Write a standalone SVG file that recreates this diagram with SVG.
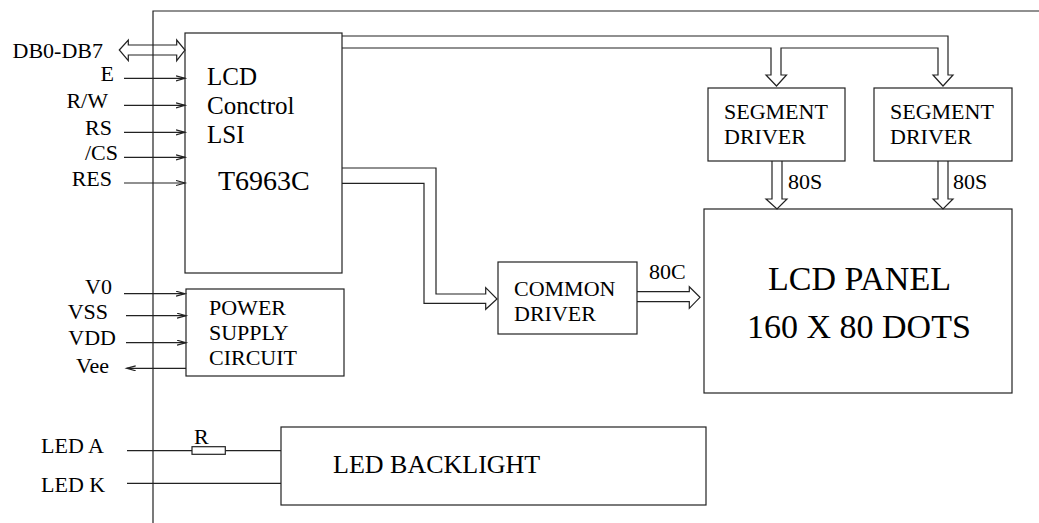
<svg xmlns="http://www.w3.org/2000/svg" width="1039" height="523" viewBox="0 0 1039 523" font-family="'Liberation Serif', 'Times New Roman', Times, serif">
<defs>
<style>
text{fill:#000}
.l{font-size:22px}
.m{font-size:25px}
.big{font-size:34px}
.box{fill:#fff;stroke:#222;stroke-width:1.2}
.ln{fill:none;stroke:#222;stroke-width:1.2}
.bus{fill:none;stroke:#222;stroke-width:1.2;stroke-linejoin:miter}
.end{text-anchor:end}
</style>
<marker id="ah" markerUnits="userSpaceOnUse" markerWidth="12" markerHeight="8" refX="9" refY="3" orient="auto">
<path d="M0,0.5 L9,3 L0,5.5" fill="none" stroke="#222" stroke-width="1.2"/>
</marker>
</defs>
<g id="frame">
<path class="ln" d="M153,523 V11 H1039"/>
</g>
<g id="lcd-control">
<rect class="box" x="185" y="33" width="157" height="240"/>
<text class="m" x="207" y="85">LCD</text>
<text class="m" x="207" y="114">Conctrol</text>
<text class="m" x="207" y="143">LSI</text>
<text x="218" y="190" font-size="28">T6963C</text>
</g>
<g id="seg1">
<rect class="box" x="708" y="88" width="137" height="73"/>
<text class="l" x="724" y="119">SEGMENT</text>
<text class="l" x="724" y="144">DRIVER</text>
</g>
<g id="seg2">
<rect class="box" x="874" y="88" width="138" height="73"/>
<text class="l" x="890" y="119">SEGMENT</text>
<text class="l" x="890" y="144">DRIVER</text>
</g>
<g id="lcd-panel">
<rect class="box" x="704" y="209" width="308" height="184"/>
<text class="big" x="768" y="290">LCD PANEL</text>
<text class="big" x="747" y="338">160 X 80 DOTS</text>
</g>
<g id="common">
<rect class="box" x="498" y="262" width="139" height="72"/>
<text class="l" x="514" y="296">COMMON</text>
<text class="l" x="514" y="321">DRIVER</text>
</g>
<g id="power">
<rect class="box" x="186" y="289" width="158" height="87"/>
<text class="l" x="209" y="315">POWER</text>
<text class="l" x="209" y="340">SUPPLY</text>
<text class="l" x="209" y="365">CIRCUIT</text>
</g>
<g id="backlight">
<rect class="box" x="281" y="427" width="425" height="78"/>
<text x="333" y="473" font-size="26">LED BACKLIGHT</text>
</g>
<g id="labels">
<text class="l end" x="103" y="58">DB0-DB7</text>
<text class="l end" x="114" y="81">E</text>
<text class="l end" x="108" y="108">R/W</text>
<text class="l end" x="112" y="135">RS</text>
<text class="l end" x="118" y="160">/CS</text>
<text class="l end" x="112" y="186">RES</text>
<text class="l end" x="112" y="294">V0</text>
<text class="l end" x="108" y="319">VSS</text>
<text class="l end" x="116" y="345">VDD</text>
<text class="l end" x="109" y="373">Vee</text>
<text class="l" x="41" y="453">LED A</text>
<text class="l" x="41" y="492">LED K</text>
<text class="l" x="194" y="444">R</text>
<text class="l" x="788" y="189">80S</text>
<text class="l" x="953" y="189">80S</text>
<text class="l" x="649" y="279">80C</text>
</g>
<g id="connectors">
<path class="bus" d="M119.3,50 L128.3,40 V45 H176.7 V40 L185,50 L176.7,60.7 V55 H128.3 V60.7 Z"/>
<line class="ln" x1="124" y1="78.3" x2="185" y2="78.3" marker-end="url(#ah)"/>
<line class="ln" x1="124" y1="105.3" x2="185" y2="105.3" marker-end="url(#ah)"/>
<line class="ln" x1="124" y1="132.3" x2="185" y2="132.3" marker-end="url(#ah)"/>
<line class="ln" x1="124" y1="157.3" x2="185" y2="157.3" marker-end="url(#ah)"/>
<line class="ln" x1="124" y1="183" x2="185" y2="183" marker-end="url(#ah)"/>
<line class="ln" x1="124" y1="293.7" x2="185" y2="293.7" marker-end="url(#ah)"/>
<line class="ln" x1="126" y1="315.7" x2="186" y2="315.7" marker-end="url(#ah)"/>
<line class="ln" x1="126" y1="342.7" x2="186" y2="342.7" marker-end="url(#ah)"/>
<line class="ln" x1="186" y1="368.3" x2="126.7" y2="368.3" marker-end="url(#ah)"/>
<path class="bus" d="M342,36 H948 V75 H953 L943,86 L933,75 H938 V48 H781 V75 H786.5 L776.5,86 L766,75 H771 V48 H342"/>
<path class="bus" d="M772,161 V199 H766 L777,209 L787,199 H782 V161"/>
<path class="bus" d="M938,161 V199 H933 L943,209 L953,199 H948 V161"/>
<path class="bus" d="M342,168 H436 V294 H485.7 V287.7 L497,299 L485.7,309.3 V303.3 H424 V183.3 H342"/>
<path class="bus" d="M637,291.7 H689.3 V286.7 L700,297.3 L689.3,308.3 V301.7 H637"/>
<path class="ln" d="M127,450.7 H192 M225.3,450.7 H281 M127,483.3 H281"/>
<rect class="ln" x="192" y="446.7" width="33.3" height="7.6"/>
</g>
</svg>
